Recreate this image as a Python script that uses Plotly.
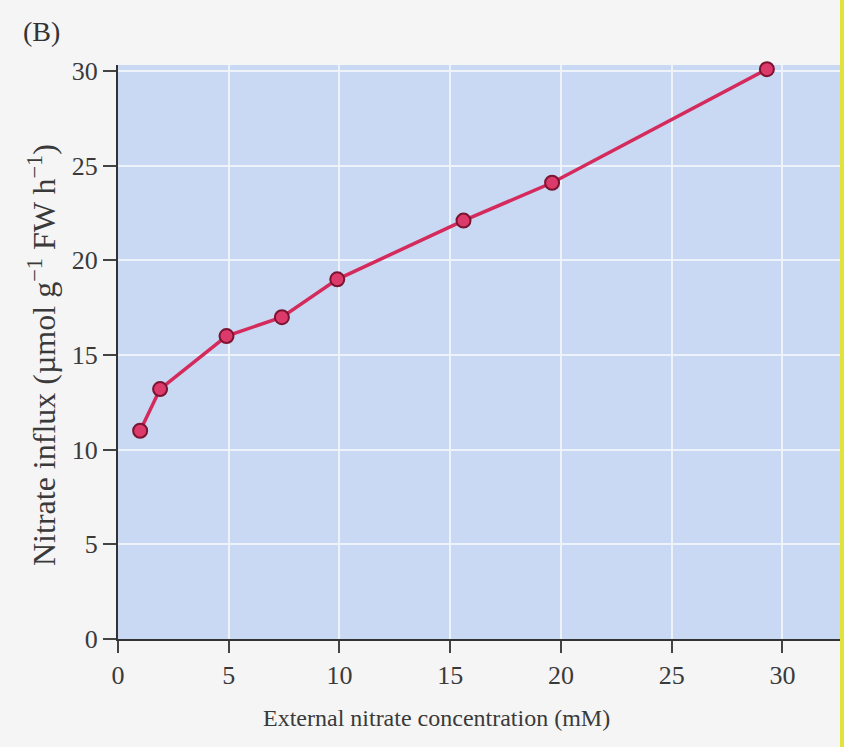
import plotly.graph_objects as go

concentration_mM = [1.0, 1.9, 4.9, 7.4, 9.9, 15.6, 19.6, 29.3]
nitrate_influx = [11.0, 13.2, 16.0, 17.0, 19.0, 22.1, 24.1, 30.1]
x_ticks = [0, 5, 10, 15, 20, 25, 30]
y_ticks = [0, 5, 10, 15, 20, 25, 30]

serif = "Liberation Serif"
fig = go.Figure()
fig.add_trace(go.Scatter(
    x=concentration_mM, y=nitrate_influx, mode="lines+markers",
    line=dict(color="#d42a5c", width=3.5),
    marker=dict(size=14, color="#dc3a6a", line=dict(color="#7a1430", width=2)),
    cliponaxis=False, showlegend=False,
))

fig.update_layout(
    width=844, height=747,
    margin=dict(l=118, r=4, t=65, b=108),
    paper_bgcolor="#f5f5f5", plot_bgcolor="#c9d8f3",
    font=dict(family=serif, color="#3a3a3a"),
    xaxis=dict(range=[0, 32.6], tickvals=x_ticks, ticks="outside", ticklen=12,
               tickwidth=2, tickcolor="#444", showline=True, linecolor="#333",
               linewidth=2, showgrid=True, gridcolor="#eef3fb", gridwidth=2,
               zeroline=False, tickfont=dict(size=26, family=serif, color="#3a3a3a")),
    yaxis=dict(range=[0, 30.32], tickvals=y_ticks, ticks="outside", ticklen=13,
               tickwidth=2, tickcolor="#444", showline=True, linecolor="#333",
               linewidth=2, showgrid=True, gridcolor="#eef3fb", gridwidth=2,
               zeroline=False, tickfont=dict(size=26, family=serif, color="#3a3a3a")),
    annotations=[
        dict(text="External nitrate concentration (mM)", xref="paper", yref="paper",
             x=(436 - 118) / 722, y=-(718 - 639) / 574, showarrow=False,
             xanchor="center", yanchor="middle",
             font=dict(size=24, family=serif, color="#3a3a3a")),
        dict(text="Nitrate influx (µmol g<sup>−1</sup> FW h<sup>−1</sup>)", xref="paper", yref="paper",
             x=-(118 - 42) / 722, y=(639 - 355) / 574, showarrow=False, textangle=-90,
             xanchor="center", yanchor="middle",
             font=dict(size=32, family=serif, color="#3a3a3a")),
        dict(text="(B)", xref="paper", yref="paper",
             x=-(118 - 41) / 722, y=(639 - 31) / 574, showarrow=False,
             xanchor="center", yanchor="middle",
             font=dict(size=28, family=serif, color="#333")),
    ],
    shapes=[dict(type="rect", xref="paper", yref="paper", x0=1.0, x1=1.0 + 5 / 722,
                 y0=-0.3, y1=1.2, fillcolor="#e2e23c", line=dict(width=0), layer="above")],
)

fig.write_html("out.html", config={"displayModeBar": False},
               post_script="document.body.style.margin='0';document.body.style.overflow='hidden';")
